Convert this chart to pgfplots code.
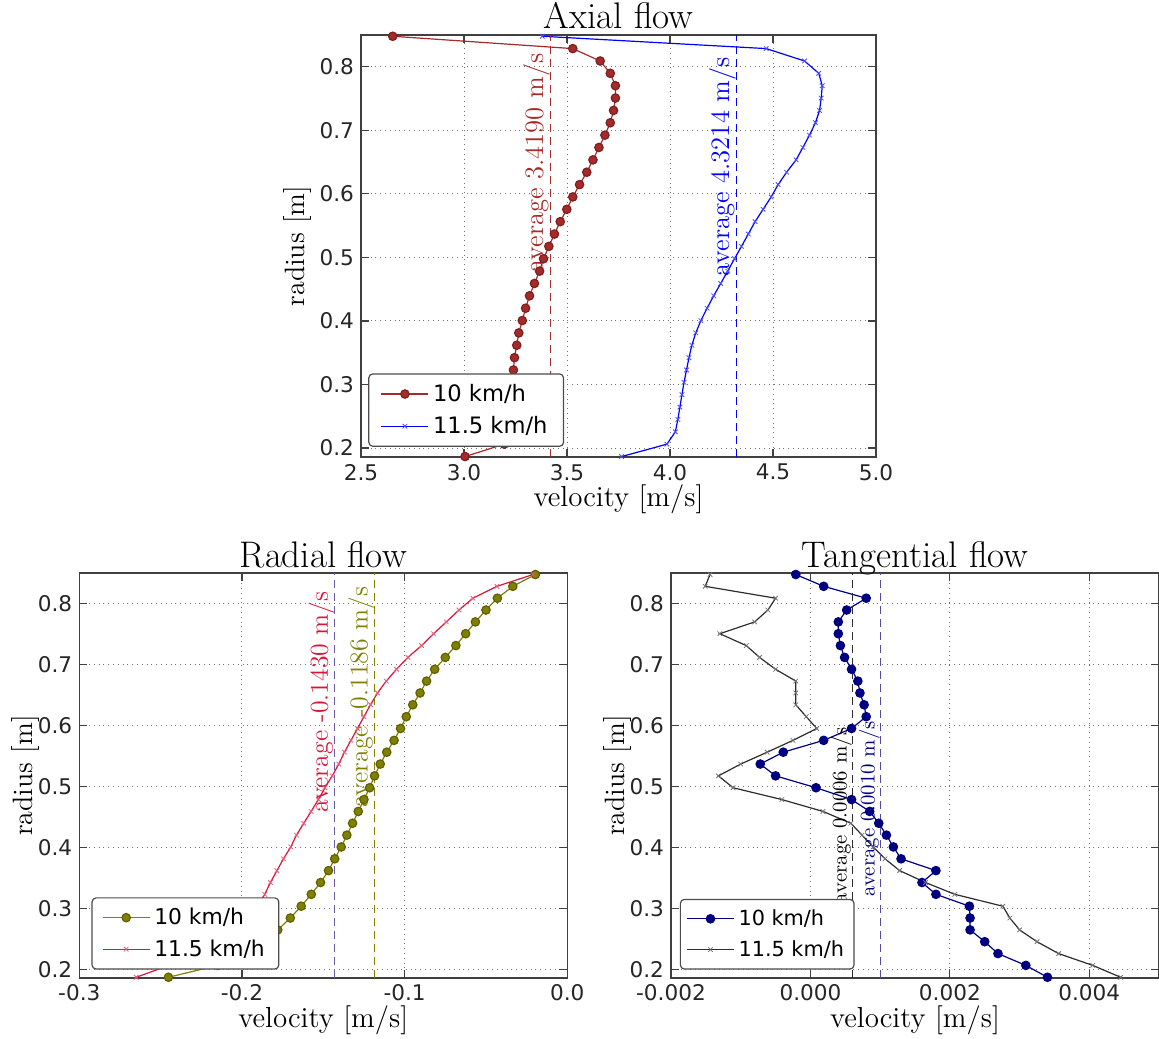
\documentclass[border=0pt]{standalone}
\usepackage{fontspec}
\usepackage{pgfplots}
\pgfplotsset{compat=1.18}
\usepackage{pgfplotstable}
\newfontfamily\dejavu{DejaVu Sans}

\definecolor{cbrown}{RGB}{165,42,42}
\definecolor{colive}{RGB}{128,128,0}
\definecolor{ccrimson}{RGB}{220,20,60}
\definecolor{cnavy}{RGB}{0,0,128}
\definecolor{cviolet}{RGB}{110,90,170}
\definecolor{cdark}{RGB}{45,45,45}

% axial flow: radius, 10 km/h, 11.5 km/h
\pgfplotstableread{
r a b
0.8480 2.654 3.380
0.8286 3.528 4.467
0.8091 3.661 4.653
0.7897 3.710 4.722
0.7702 3.735 4.739
0.7508 3.735 4.734
0.7313 3.726 4.726
0.7119 3.710 4.706
0.6924 3.684 4.677
0.6730 3.655 4.645
0.6535 3.626 4.612
0.6341 3.596 4.566
0.6146 3.561 4.525
0.5952 3.528 4.491
0.5757 3.499 4.452
0.5563 3.467 4.413
0.5368 3.439 4.380
0.5174 3.412 4.347
0.4979 3.386 4.313
0.4785 3.367 4.280
0.4590 3.342 4.246
0.4396 3.318 4.212
0.4201 3.299 4.180
0.4007 3.283 4.150
0.3812 3.266 4.125
0.3618 3.256 4.106
0.3423 3.245 4.092
0.3229 3.240 4.080
0.3034 3.236 4.068
0.2840 3.232 4.058
0.2645 3.228 4.048
0.2451 3.224 4.038
0.2256 3.218 4.026
0.2062 3.195 3.985
0.1867 3.005 3.765
}\axialdata

% radial flow
\pgfplotstableread{
r a b
0.8480 -0.0196 -0.0210
0.8286 -0.0335 -0.0433
0.8091 -0.0430 -0.0580
0.7897 -0.0500 -0.0666
0.7702 -0.0565 -0.0744
0.7508 -0.0625 -0.0822
0.7313 -0.0685 -0.0896
0.7119 -0.0750 -0.0980
0.6924 -0.0815 -0.1050
0.6730 -0.0865 -0.1113
0.6535 -0.0905 -0.1167
0.6341 -0.0950 -0.1210
0.6146 -0.0990 -0.1250
0.5952 -0.1025 -0.1290
0.5757 -0.1065 -0.1330
0.5563 -0.1110 -0.1370
0.5368 -0.1150 -0.1405
0.5174 -0.1185 -0.1445
0.4979 -0.1215 -0.1490
0.4785 -0.1250 -0.1530
0.4590 -0.1285 -0.1575
0.4396 -0.1320 -0.1620
0.4201 -0.1355 -0.1665
0.4007 -0.1390 -0.1700
0.3812 -0.1430 -0.1745
0.3618 -0.1468 -0.1785
0.3423 -0.1517 -0.1825
0.3229 -0.1574 -0.1860
0.3034 -0.1636 -0.1905
0.2840 -0.1703 -0.1985
0.2645 -0.1780 -0.2085
0.2451 -0.1870 -0.2200
0.2256 -0.1990 -0.2320
0.2062 -0.2150 -0.2450
0.1867 -0.2452 -0.2650
}\radialdata

% tangential flow
\pgfplotstableread{
r a b
0.8480 -0.00021 -0.00144
0.8286 0.00019 -0.00151
0.8091 0.00080 -0.00050
0.7897 0.00052 -0.00061
0.7702 0.00040 -0.00080
0.7508 0.00040 -0.00130
0.7313 0.00043 -0.00092
0.7119 0.00049 -0.00073
0.6924 0.00059 -0.00050
0.6730 0.00068 -0.00021
0.6535 0.00071 -0.00021
0.6341 0.00077 -0.00021
0.6146 0.00080 -0.00006
0.5952 0.00059 0.00009
0.5757 0.00019 -0.00025
0.5563 -0.00039 -0.00062
0.5368 -0.00072 -0.00100
0.5174 -0.00050 -0.00132
0.4979 0.00008 -0.00111
0.4785 0.00059 -0.00041
0.4590 0.00085 0.00018
0.4396 0.00098 0.00058
0.4201 0.00109 0.00074
0.4007 0.00119 0.00090
0.3812 0.00130 0.00107
0.3618 0.00180 0.00128
0.3423 0.00160 0.00165
0.3229 0.00180 0.00207
0.3034 0.00228 0.00276
0.2840 0.00229 0.00286
0.2645 0.00229 0.00300
0.2451 0.00250 0.00325
0.2256 0.00269 0.00356
0.2062 0.00309 0.00405
0.1867 0.00340 0.00445
}\tangdata

\pgfplotsset{
  panel/.style={
    scale only axis,
    axis line style={draw=black!75, line width=0.8pt},
    grid=major,
    grid style={dotted, black!55, line width=0.5pt},
    tick align=inside,
    major tick length=4pt,
    tick style={black!75, line width=0.6pt},
    ymin=0.186, ymax=0.85,
    ytick={0.2,0.3,0.4,0.5,0.6,0.7,0.8},
    yticklabels={0.2,0.3,0.4,0.5,0.6,0.7,0.8},
    tick label style={font=\dejavu\fontsize{10.8}{12}\selectfont, text=black!85},
    every axis title/.style={font=\fontsize{18.5}{21}\selectfont, at={(0.5,1)}, anchor=base, yshift=3pt},
    xlabel style={font=\fontsize{14.5}{17}\selectfont, at={(axis description cs:0.5,-0.118)}, anchor=base},
    ylabel style={font=\fontsize{14}{16}\selectfont, anchor=base, rotate=0},
    xlabel={velocity [m/s]},
    ylabel={radius [m]},
    legend cell align=left,
    legend image code/.code={\draw[#1, mark repeat=2, mark phase=2] plot coordinates {(0pt,0pt) (11.75pt,0pt) (23.5pt,0pt)};},
  },
  avg/.style={dashed, dash pattern=on 4pt off 2.5pt, line width=0.6pt, forget plot},
}

\begin{document}
\begin{tikzpicture}
\useasboundingbox (0,0) rectangle (579.5pt,519pt);

% ---------------- Axial flow ----------------
\begin{axis}[panel,
  at={(180.5pt,290.5pt)}, anchor=south west,
  width=257.5pt, height=211pt,
  xmin=2.5, xmax=5.0,
  xtick={2.5,3.0,3.5,4.0,4.5,5.0},
  xticklabels={2.5,3.0,3.5,4.0,4.5,5.0},
  title={Axial flow},
  ylabel style={at={(axis description cs:-0.109,0.5)}},
  legend style={at={(0.014,0.024)}, anchor=south west, draw=black!70, rounded corners=2pt,
    line width=0.6pt, font=\dejavu\fontsize{11.3}{13}\selectfont, row sep=2pt,
    inner xsep=6pt, inner ysep=3pt,
    /tikz/every even column/.append style={column sep=9pt}},
]
\addplot[cbrown, line width=0.6pt, mark=*, mark size=2.1pt, mark options={fill=cbrown, draw=cbrown!75!black}] table[x=a, y=r] {\axialdata};
\addlegendentry{10 km/h}
\addplot[blue, line width=0.6pt, mark=x, mark size=1.6pt, mark options={blue!70, line width=0.4pt}] table[x=b, y=r] {\axialdata};
\addlegendentry{11.5 km/h}
\addplot[cbrown, avg] coordinates {(3.4190,0.186) (3.4190,0.85)};
\addplot[blue, avg] coordinates {(4.3214,0.186) (4.3214,0.85)};
\node[rotate=90, anchor=south west, inner sep=0pt, text=cbrown, font=\fontsize{13.3}{15}\selectfont] at (axis cs:3.4190,0.475) {average 3.4190 m/s};
\node[rotate=90, anchor=south west, inner sep=0pt, text=blue, font=\fontsize{13.3}{15}\selectfont] at (axis cs:4.3214,0.469) {average 4.3214 m/s};
\end{axis}

% ---------------- Radial flow ----------------
\begin{axis}[panel,
  at={(39.65pt,30.15pt)}, anchor=south west,
  width=244pt, height=202.2pt,
  xmin=-0.3, xmax=0.0,
  xtick={-0.3,-0.2,-0.1,0.0},
  xticklabels={-0.3,-0.2,-0.1,0.0},
  title={Radial flow},
  xlabel style={at={(axis description cs:0.5,-0.124)}},
  ylabel style={at={(axis description cs:-0.095,0.5)}},
  legend style={at={(0.025,0.02)}, anchor=south west, draw=black!70, rounded corners=2pt,
    line width=0.6pt, font=\dejavu\fontsize{10.9}{13}\selectfont, row sep=2pt,
    inner xsep=5pt, inner ysep=3pt,
    /tikz/every even column/.append style={column sep=5pt}},
]
\addplot[colive, line width=0.6pt, mark=*, mark size=2.1pt, mark options={fill=colive, draw=colive!75!black}] table[x=a, y=r] {\radialdata};
\addlegendentry{10 km/h}
\addplot[ccrimson, line width=0.6pt, mark=x, mark size=1.6pt, mark options={ccrimson!70, line width=0.4pt}] table[x=b, y=r] {\radialdata};
\addlegendentry{11.5 km/h}
\addplot[cviolet, avg] coordinates {(-0.1430,0.186) (-0.1430,0.85)};
\addplot[colive, avg] coordinates {(-0.1186,0.186) (-0.1186,0.85)};
\node[rotate=90, anchor=south west, inner sep=0pt, text=ccrimson, font=\fontsize{12.9}{15}\selectfont] at (axis cs:-0.1430,0.456) {average -0.1430 m/s};
\node[rotate=90, anchor=south west, inner sep=0pt, text=colive, font=\fontsize{12.9}{15}\selectfont] at (axis cs:-0.1186,0.464) {average -0.1186 m/s};
\end{axis}

% ---------------- Tangential flow ----------------
\begin{axis}[panel,
  at={(335.5pt,30.15pt)}, anchor=south west,
  width=244pt, height=202.2pt,
  xmin=-0.002, xmax=0.005,
  scaled x ticks=false,
  xtick={-0.002,0,0.002,0.004},
  xticklabels={-0.002,0.000,0.002,0.004},
  title={Tangential flow},
  xlabel style={at={(axis description cs:0.5,-0.124)}},
  ylabel style={at={(axis description cs:-0.096,0.5)}},
  legend style={at={(0.018,0.02)}, anchor=south west, draw=black!70, rounded corners=2pt,
    line width=0.6pt, font=\dejavu\fontsize{10.4}{12}\selectfont, row sep=2pt,
    inner xsep=3pt, inner ysep=3pt},
]
\addplot[cnavy, line width=0.6pt, mark=*, mark size=2.1pt, mark options={fill=cnavy, draw=cnavy}] table[x=a, y=r] {\tangdata};
\addlegendentry{10 km/h}
\addplot[cdark, line width=0.6pt, mark=x, mark size=1.6pt, mark options={black!55, line width=0.4pt}] table[x=b, y=r] {\tangdata};
\addlegendentry{11.5 km/h}
\addplot[cdark, avg] coordinates {(0.0006,0.186) (0.0006,0.85)};
\addplot[cviolet!80!cnavy, avg] coordinates {(0.0010,0.186) (0.0010,0.85)};
\node[rotate=90, anchor=south west, inner sep=0pt, text=black, font=\fontsize{10.4}{12}\selectfont] at (axis cs:0.0006,0.308) {average 0.0006 m/s};
\node[rotate=90, anchor=south west, inner sep=0pt, text=cnavy, font=\fontsize{10.4}{12}\selectfont] at (axis cs:0.0010,0.319) {average 0.0010 m/s};
\end{axis}
\end{tikzpicture}
\end{document}
